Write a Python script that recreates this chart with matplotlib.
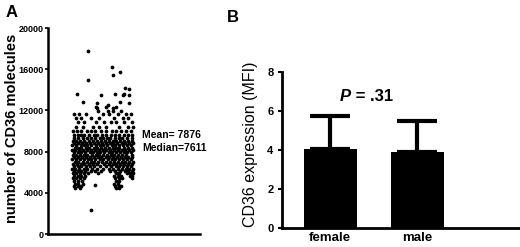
import matplotlib
matplotlib.use("Agg")
import matplotlib.pyplot as plt

plt.rcParams['font.family'] = ['Liberation Sans', 'DejaVu Sans']

# --- panel A: number of CD36 molecules per donor (x is jitter only) ---
# sparse points above / below the main cloud
out_x = [26.5, 26.5, 42, 43, 47.5, 18.9, 23.2, 32, 32, 34.9, 39.3, 43, 44, 47.4,
         49.6, 50.7, 53.3, 50.2, 53.3, 53.5, 31.6, 38, 44.7, 32.7, 39.3, 42.6, 48,
         28, 31]
out_y = [17800, 14950, 16250, 15450, 15700, 13600, 12850, 12690, 12270, 13500,
         12530, 12270, 13600, 12850, 13500, 14150, 14050, 13600, 13500, 12690,
         12360, 12360, 12360, 11970, 11970, 11970, 11970, 2330, 4760]

cloud_rows = [
    (11620, [17.3, 20.6, 25, 36, 40.3, 45.9, 51.3, 54.6]),
    (11230, [18.4, 21.7, 28.3, 33.8, 43.6, 49.1, 52.4]),
    (10840, [19.5, 23.9, 31.6, 37, 41.4, 44.7, 50.2, 55]),
    (10420, [18.4, 22.8, 29.4, 33.8, 38.2, 46.9, 52.4, 55.7]),
    (10000, [16.5, 19, 22, 25.5, 28, 31, 35, 38.5, 42, 45, 48, 51.5, 54.5]),
    (9610, [17, 19.5, 21.5, 24, 27, 30, 32.5, 35.5, 38, 41.5, 44, 47, 50, 53, 55.5]),
    (9300, [17, 19.5, 23, 26, 28.5, 31, 34, 36.5, 39, 41, 44, 46.5, 49, 52, 55]),
    (9050, [16.5, 18.5, 21, 24, 27, 29.5, 32, 35, 37.5, 40, 42.5, 45, 47.5, 50, 53, 55.5]),
    (8820, [17, 20, 22.5, 25, 27.5, 30, 33, 35.5, 38, 41, 43, 45.5, 48.5, 51, 53.5, 56]),
    (8600, [16, 18.5, 21.5, 23.5, 26, 28.5, 31.5, 34, 36, 39, 42, 44, 46.5, 49.5, 52, 54.5]),
    (8370, [17.5, 19.5, 22, 25, 27, 30, 32.5, 35, 37.5, 40, 42.5, 45, 47, 50, 52.5, 55]),
    (8150, [16, 18, 20.5, 23, 26, 28.5, 31, 33.5, 36, 38.5, 41, 43.5, 46, 48.5, 51, 53.5, 56]),
    (7920, [17, 19.5, 22, 24.5, 27.5, 29.5, 32, 34.5, 37, 40, 42, 44.5, 47.5, 50, 52, 54.5]),
    (7700, [16.5, 18.5, 21, 23.5, 26, 29, 31.5, 33.5, 36.5, 39, 41.5, 43.5, 46, 49, 51.5, 55.5]),
    (7480, [17, 20, 22.5, 25, 27.5, 30, 33, 35, 38, 40.5, 43, 45.5, 48, 50.5, 53, 55]),
    (7250, [16, 18.5, 21, 24, 26.5, 28.5, 31, 34, 36.5, 39.5, 42, 44, 47, 49.5, 52, 54.5]),
    (7030, [17.5, 20, 23, 25.5, 28, 30.5, 33, 35.5, 38, 41, 43.5, 46, 48.5, 51, 53.5, 56]),
    (6800, [16.5, 19, 21.5, 24, 27, 29.5, 32, 37, 40, 42.5, 45, 47.5, 50, 52.5, 55]),
    (6580, [17, 19.5, 22, 25, 27.5, 30.5, 34, 38.5, 41.5, 44.5, 47, 49.5, 52, 54.5]),
    (6350, [16, 18, 20.5, 23.5, 26, 29, 32.5, 36, 40, 43, 46, 48.5, 51.5, 53.5, 56]),
    (6120, [17, 19.5, 22, 24.5, 28, 31, 35, 41, 44, 47.5, 50.5, 53, 55.5]),
    (5900, [16.5, 18.5, 21, 23.5, 26.5, 33, 44.5, 47, 52, 54, 56]),
    (5650, [17, 19.5, 22, 24.5, 43.5, 46, 48, 54, 55.5]),
    (5400, [16.5, 18.5, 21, 23.5, 44, 46.5, 48.5, 55]),
    (5150, [17, 19.5, 22.5, 44.5, 47]),
    (4900, [17.5, 20, 23, 43.5, 46]),
    (4650, [17, 19.5, 22, 44, 46.5, 48]),
    (4450, [18, 21, 45, 47]),
]
yticks_a = [0, 4000, 8000, 12000, 16000, 20000]
mean_txt = "Mean= 7876"
median_txt = "Median=7611"

# --- panel B: CD36 expression by sex ---
groups = ["female", "male"]
mfi_mean = [4.05, 3.88]
mfi_err = [1.70, 1.62]
p_label = ".31"

fig = plt.figure(figsize=(5.2, 2.47), dpi=100)

# panel A
ax1 = fig.add_axes([0.0923, 0.0526, 0.292, 0.834])
xs = list(out_x)
ys = list(out_y)
for val, jit in cloud_rows:
    xs += jit
    ys += [val] * len(jit)
ax1.plot(xs, ys, "o", color="black", markersize=2.7, markeredgewidth=0)
ax1.set_xlim(0, 100)
ax1.set_ylim(0, 20000)
ax1.set_yticks(yticks_a)
ax1.set_yticklabels([str(v) for v in yticks_a], fontsize=6.5, fontweight="bold")
ax1.set_xticks([])
ax1.tick_params(axis="y", length=2, width=1.2, pad=1)
for s in ["top", "right"]:
    ax1.spines[s].set_visible(False)
for s in ["left", "bottom"]:
    ax1.spines[s].set_linewidth(1.8)
ax1.text(61.8, 9660, mean_txt, fontsize=7.5, fontweight="bold", va="center", ha="left")
ax1.text(61.8, 8350, median_txt, fontsize=7.5, fontweight="bold", va="center", ha="left")
fig.text(0.023, 0.482, "number of CD36 molecules", rotation=90, fontsize=10.5,
         fontweight="bold", ha="center", va="center")
fig.text(0.010, 0.98, "A", fontsize=12, fontweight="bold", ha="left", va="top")

# panel B
ax2 = fig.add_axes([0.542, 0.077, 0.458, 0.632])
pos = [0, 1]
ax2.bar(pos, mfi_mean, width=0.61, color="black")
ax2.errorbar(pos, mfi_mean, yerr=[[0, 0], mfi_err], fmt="none", ecolor="black",
             elinewidth=3, capsize=14.5, capthick=3)
ax2.set_xlim(-0.557, 2.18)
ax2.set_ylim(0, 8)
ax2.set_yticks([0, 2, 4, 6, 8])
ax2.set_yticklabels(["0", "2", "4", "6", "8"], fontsize=8, fontweight="bold")
ax2.set_xticks(pos)
ax2.set_xticklabels(groups, fontsize=9.5, fontweight="bold")
ax2.tick_params(axis="x", length=0, pad=3)
ax2.tick_params(axis="y", length=3, width=1.5, pad=3)
for s in ["top", "right"]:
    ax2.spines[s].set_visible(False)
for s in ["left", "bottom"]:
    ax2.spines[s].set_linewidth(2)
t1 = ax2.text(0.11, 6.52, "P", fontsize=12, fontweight="bold", style="italic",
              ha="left", va="baseline")
ax2.annotate(" = " + p_label, xy=(1, 0), xycoords=t1, fontsize=12, fontweight="bold",
             ha="left", va="bottom")
fig.text(0.481, 0.415, "CD36 expression (MFI)", rotation=90, fontsize=11.5,
         ha="center", va="center")
fig.text(0.437, 0.96, "B", fontsize=12, fontweight="bold", ha="left", va="top")

fig.savefig("out.png", dpi=100)
